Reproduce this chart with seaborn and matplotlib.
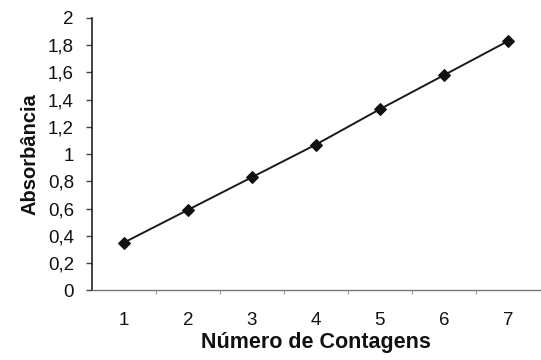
import matplotlib
matplotlib.use("Agg")
import matplotlib.pyplot as plt
import seaborn as sns
import pandas as pd

contagens = [1, 2, 3, 4, 5, 6, 7]
absorbancia = [0.35, 0.59, 0.83, 1.07, 1.33, 1.58, 1.83]
y_ticks = [0, 0.2, 0.4, 0.6, 0.8, 1, 1.2, 1.4, 1.6, 1.8, 2]

sns.set_theme(style="white")
plt.rcParams['font.family'] = ['Liberation Sans', 'DejaVu Sans']

df = pd.DataFrame({"Contagens": contagens, "Absorbancia": absorbancia})

fig = plt.figure(figsize=(5.41, 3.60), dpi=100)
ax = fig.add_axes([0.170, 0.194, 0.828, 0.756])

sns.lineplot(data=df, x="Contagens", y="Absorbancia", ax=ax, color="#1a1a1a",
             linewidth=1.4, marker="D", markersize=6.5, markeredgecolor="#111111",
             markerfacecolor="#111111")

ax.set_xlim(0.5, 7.5)
ax.set_ylim(0, 2)
ax.set_yticks(y_ticks)
ax.set_yticklabels([f"{v:g}".replace(".", ",") for v in y_ticks])
ax.set_xticks(contagens)
ax.set_xticklabels([str(c) for c in contagens])

for side in ("top", "right"):
    ax.spines[side].set_visible(False)
ax.spines["left"].set_color("#222222")
ax.spines["left"].set_linewidth(1.2)
ax.spines["bottom"].set_color("#777777")
ax.spines["bottom"].set_linewidth(1.0)
ax.spines["bottom"].set_linestyle((0, (2, 1)))

ax.tick_params(axis="y", left=True, length=4, width=1, color="#444444",
               labelsize=13.5, pad=9, labelcolor="#111111")
ax.tick_params(axis="x", bottom=False, labelsize=13.5, pad=10, labelcolor="#111111")
# small ticks at the category boundaries
ax.set_xticks([1.5, 2.5, 3.5, 4.5, 5.5, 6.5], minor=True)
ax.tick_params(axis="x", which="minor", bottom=True, length=3, width=0.8, color="#999999")

ax.set_xlabel("Número de Contagens", fontsize=15.5, fontweight="bold", color="#111111", labelpad=2)
ax.set_ylabel("Absorbância", fontsize=14.5, fontweight="bold", color="#111111", labelpad=6)
ax.grid(False)

fig.savefig("out.png", dpi=100)
